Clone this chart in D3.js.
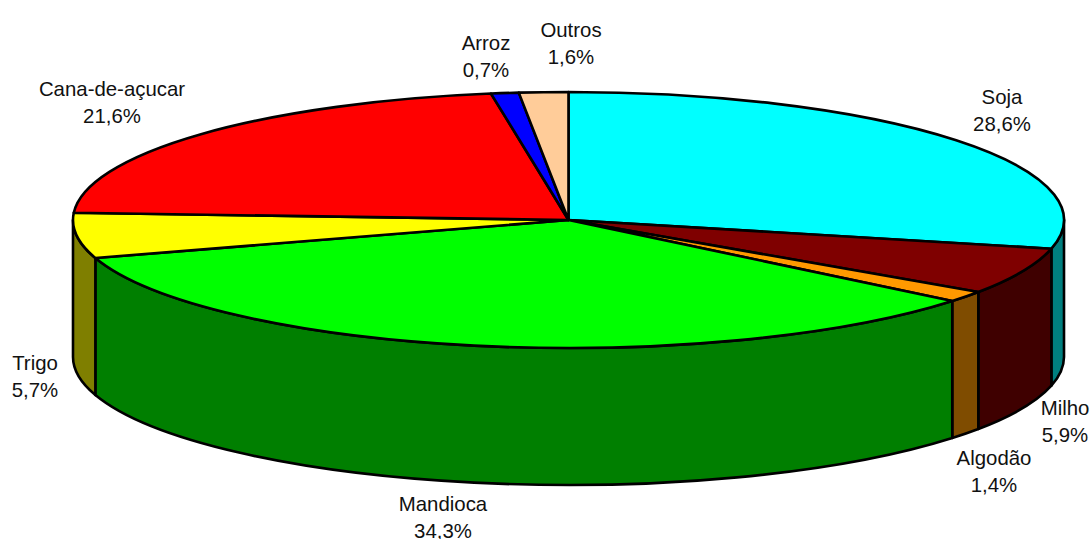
<!DOCTYPE html>
<html>
<head>
<meta charset="utf-8">
<script src="https://cdn.jsdelivr.net/npm/d3@7/dist/d3.min.js"></script>
<style>
    html, body { margin: 0; padding: 0; background: #fff; overflow: hidden; }
    text { font-family: "Liberation Sans", sans-serif; font-size: 20.4px; fill: #111; }
</style>
</head>
<body>
<svg id="chart" width="1091" height="539"></svg>
<script>
// Chart data, clockwise from 12 o'clock
var categories = ["Soja", "Milho", "Algodão", "Mandioca", "Trigo", "Cana-de-açucar", "Arroz", "Outros"];
var shares = [28.6, 5.9, 1.4, 34.3, 5.7, 21.6, 0.9, 1.6];
var shareLabels = ["28,6%", "5,9%", "1,4%", "34,3%", "5,7%", "21,6%", "0,7%", "1,6%"];
var topColors = ["#00ffff", "#7f0000", "#ff9900", "#00ff00", "#ffff00", "#ff0000", "#0000ff", "#ffcc99"];
var sideColors = ["#007f7f", "#3f0000", "#7f4c00", "#007f00", "#7f7f00", "#7f0000", "#00007f", "#7f664c"];

// Label centres, placed by hand like the original
var labelX = [1002, 1065, 994, 443, 35, 112, 486, 571];
var labelY = [97, 408, 458, 504, 363, 89, 43, 30];
var lineHeight = 27;

var cx = 568.5, cy = 220, rx = 495.5, ry = 128, depth = 137;

var svg = d3.select("#chart");

// Project the unit circle onto the tilted ellipse
var x = d3.scaleLinear().domain([-1, 1]).range([cx - rx, cx + rx]);
var y = d3.scaleLinear().domain([-1, 1]).range([cy + ry, cy - ry]);

function px(angle) { return x(Math.sin(angle)); }
function py(angle, drop) { return y(Math.cos(angle)) + (drop || 0); }

var slices = d3.pie().sort(null).value(function (d) { return d; })(shares);

function topPath(d) {
    var large = d.endAngle - d.startAngle > Math.PI ? 1 : 0;
    return "M" + cx + "," + cy +
        "L" + px(d.startAngle) + "," + py(d.startAngle) +
        "A" + rx + "," + ry + " 0 " + large + " 1 " + px(d.endAngle) + "," + py(d.endAngle) + "Z";
}

// Only the front half of the rim can be seen
function sidePath(d) {
    var a0 = Math.max(d.startAngle, Math.PI / 2);
    var a1 = Math.min(d.endAngle, 3 * Math.PI / 2);
    if (a1 <= a0) return null;
    return "M" + px(a0) + "," + py(a0) +
        "A" + rx + "," + ry + " 0 0 1 " + px(a1) + "," + py(a1) +
        "L" + px(a1) + "," + py(a1, depth) +
        "A" + rx + "," + ry + " 0 0 0 " + px(a0) + "," + py(a0, depth) + "Z";
}

svg.append("g").attr("class", "sides")
    .selectAll("path")
    .data(slices.filter(sidePath))
    .enter()
    .append("path")
    .attr("d", sidePath)
    .attr("fill", function (d) { return sideColors[d.index]; })
    .attr("stroke", "#000")
    .attr("stroke-width", 2.6)
    .attr("stroke-linejoin", "round");

svg.append("g").attr("class", "tops")
    .selectAll("path")
    .data(slices)
    .enter()
    .append("path")
    .attr("d", topPath)
    .attr("fill", function (d) { return topColors[d.index]; })
    .attr("stroke", "#000")
    .attr("stroke-width", 2.6)
    .attr("stroke-linejoin", "round");

var labels = svg.append("g").attr("class", "labels")
    .selectAll("text")
    .data(categories)
    .enter()
    .append("text")
    .attr("text-anchor", "middle")
    .attr("transform", function (d, i) { return "translate(" + labelX[i] + "," + labelY[i] + ")"; });

labels.append("tspan")
    .attr("x", 0)
    .attr("y", 7)
    .text(function (d) { return d; });

labels.append("tspan")
    .attr("x", 0)
    .attr("y", 7 + lineHeight)
    .text(function (d, i) { return shareLabels[i]; });
</script>
</body>
</html>
